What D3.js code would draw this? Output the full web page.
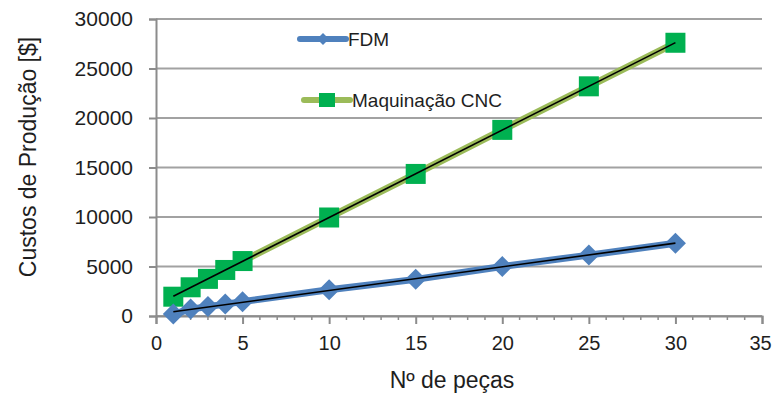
<!DOCTYPE html>
<html>
<head>
<meta charset="utf-8">
<script src="https://cdn.jsdelivr.net/npm/d3@7"></script>
<style>
  html, body { margin: 0; padding: 0; background: #fff; }
  svg { display: block; font-family: "Liberation Sans", Arial, sans-serif; }
</style>
</head>
<body>
<svg id="chart" width="772" height="396"></svg>
<script>
// Number of parts produced
const pieces = [1, 2, 3, 4, 5, 10, 15, 20, 25, 30];
// Production cost [$] per process
const fdmCost = [200, 700, 950, 1200, 1450, 2650, 3700, 5000, 6150, 7350];
const cncCost = [1950, 2900, 3750, 4650, 5550, 9950, 14350, 18800, 23200, 27600];
const seriesNames = ["FDM", "Maquinação CNC"];
const yTicks = [0, 5000, 10000, 15000, 20000, 25000, 30000];
const xTicks = [0, 5, 10, 15, 20, 25, 30, 35];

const svg = d3.select("#chart");
const x = d3.scaleLinear().domain([0, 35]).range([156, 762]);
const y = d3.scaleLinear().domain([0, 30000]).range([316, 19]);

const gridColor = "#8c8c8c";
const textColor = "#1e1e1e";

// horizontal gridlines
svg.append("g").selectAll("line").data(yTicks).join("line")
  .attr("x1", x(0)).attr("x2", x(35))
  .attr("y1", d => y(d)).attr("y2", d => y(d))
  .attr("stroke", gridColor).attr("stroke-width", 2).attr("opacity", 0.8);

// y axis
const yAxis = svg.append("g").attr("transform", `translate(${x(0)},0)`)
  .call(d3.axisLeft(y).tickValues(yTicks).tickFormat(d3.format("d")).tickSize(7).tickPadding(16));
yAxis.select(".domain").attr("stroke", gridColor).attr("stroke-width", 2);
yAxis.selectAll(".tick line").attr("stroke", gridColor).attr("stroke-width", 2);
yAxis.selectAll("text").attr("fill", textColor).attr("font-size", 21)
  .attr("font-family", "Liberation Sans, Arial, sans-serif");

// x axis: minor ticks every unit, major every 5
const minor = d3.range(0, 36).filter(d => d % 5 !== 0);
svg.append("g").selectAll("line").data(minor).join("line")
  .attr("x1", d => x(d)).attr("x2", d => x(d))
  .attr("y1", y(0)).attr("y2", y(0) + 4)
  .attr("stroke", gridColor).attr("stroke-width", 1.5);
const xAxis = svg.append("g").attr("transform", `translate(0,${y(0)})`)
  .call(d3.axisBottom(x).tickValues(xTicks).tickFormat(d3.format("d")).tickSize(8).tickPadding(12));
xAxis.select(".domain").attr("stroke", gridColor).attr("stroke-width", 2);
xAxis.selectAll(".tick line").attr("stroke", gridColor).attr("stroke-width", 2);
xAxis.selectAll("text").attr("fill", textColor).attr("font-size", 20)
  .attr("font-family", "Liberation Sans, Arial, sans-serif");
// keep the last label inside the frame
xAxis.selectAll(".tick").filter(d => d === 35).select("text").attr("dx", -2);

// axis titles
svg.append("text")
  .attr("transform", `translate(36,157) rotate(-90)`)
  .attr("text-anchor", "middle")
  .attr("font-size", 23).attr("fill", textColor)
  .text("Custos de Produção [$]");
svg.append("text")
  .attr("x", 452).attr("y", 388)
  .attr("text-anchor", "middle")
  .attr("font-size", 23).attr("fill", textColor)
  .text("Nº de peças");

const fdm = pieces.map((p, i) => ({ x: p, y: fdmCost[i] }));
const cnc = pieces.map((p, i) => ({ x: p, y: cncCost[i] }));

const line = d3.line().x(d => x(d.x)).y(d => y(d.y));

// least-squares fit over the data range
function fit(data) {
  const mx = d3.mean(data, d => d.x), my = d3.mean(data, d => d.y);
  const b = d3.sum(data, d => (d.x - mx) * (d.y - my)) / d3.sum(data, d => (d.x - mx) ** 2);
  const a = my - b * mx;
  const [x0, x1] = d3.extent(data, d => d.x);
  return [{ x: x0, y: a + b * x0 }, { x: x1, y: a + b * x1 }];
}

function diamondPath(size) {
  const h = size / 2;
  return `M0,${-h}L${h},0L0,${h}L${-h},0Z`;
}

// CNC series
svg.append("path").datum(cnc).attr("d", line)
  .attr("fill", "none").attr("stroke", "#9bbb59").attr("stroke-width", 7)
  .attr("stroke-linecap", "round");
svg.append("g").selectAll("rect").data(cnc).join("rect")
  .attr("x", d => x(d.x) - 10).attr("y", d => y(d.y) - 10)
  .attr("width", 20).attr("height", 20)
  .attr("fill", "#00b050");

// FDM series
svg.append("path").datum(fdm).attr("d", line)
  .attr("fill", "none").attr("stroke", "#4f81bd").attr("stroke-width", 7)
  .attr("stroke-linecap", "round");
svg.append("g").selectAll("path").data(fdm).join("path")
  .attr("transform", d => `translate(${x(d.x)},${y(d.y)})`)
  .attr("d", diamondPath(21))
  .attr("fill", "#4f81bd");

// trend lines
[fdm, cnc].forEach(s => {
  svg.append("path").datum(fit(s)).attr("d", line)
    .attr("fill", "none").attr("stroke", "#000").attr("stroke-width", 1.6);
});

// legend
const legend = svg.append("g");
const legendItems = [
  { name: seriesNames[0], color: "#4f81bd", x1: 300, x2: 346, y: 39, marker: "diamond" },
  { name: seriesNames[1], color: "#9bbb59", x1: 304, x2: 350, y: 100, marker: "square" }
];
legendItems.forEach(it => {
  legend.append("line")
    .attr("x1", it.x1).attr("x2", it.x2).attr("y1", it.y).attr("y2", it.y)
    .attr("stroke", it.color).attr("stroke-width", 6).attr("stroke-linecap", "round");
  const cx = (it.x1 + it.x2) / 2;
  if (it.marker === "diamond") {
    legend.append("path").attr("transform", `translate(${cx},${it.y})`)
      .attr("d", diamondPath(12)).attr("fill", "#4f81bd");
  } else {
    legend.append("rect").attr("x", cx - 8).attr("y", it.y - 7)
      .attr("width", 16).attr("height", 14).attr("fill", "#00b050");
  }
  legend.append("text")
    .attr("x", it.x2 + 2).attr("y", it.y + 7)
    .attr("font-size", 19).attr("fill", textColor)
    .text(it.name);
});
</script>
</body>
</html>
